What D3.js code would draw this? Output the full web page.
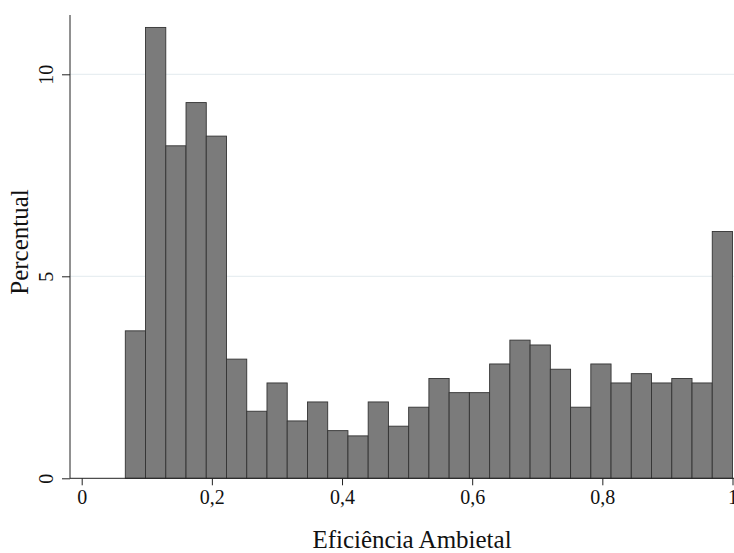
<!DOCTYPE html>
<html>
<head>
<meta charset="utf-8">
<script src="https://cdn.jsdelivr.net/npm/d3@7"></script>
<style>
  html, body { margin: 0; padding: 0; background: #fff; }
  text { font-family: "Liberation Serif", "DejaVu Serif", serif; fill: #111; }
</style>
</head>
<body>
<svg id="chart" width="734" height="553"></svg>
<script>
// Histogram data: bin start, bin width, percentages
const binStart = 0.0670;
const binEnd = 1.0;
const percentages = [3.65, 11.16, 8.23, 9.30, 8.47, 2.95, 1.66, 2.36, 1.42, 1.89,
                     1.18, 1.05, 1.89, 1.29, 1.76, 2.47, 2.12, 2.12, 2.83, 3.42,
                     3.30, 2.70, 1.76, 2.83, 2.36, 2.59, 2.36, 2.47, 2.36, 6.11];
const xTicks = [0, 0.2, 0.4, 0.6, 0.8, 1];
const yTicks = [0, 5, 10];
const xLabel = "Eficiência Ambietal";
const yLabel = "Percentual";

const svg = d3.select("#chart");
const x = d3.scaleLinear().domain([0, 1]).range([81.7, 732.5]);
const y = d3.scaleLinear().domain([0, 10]).range([478.3, 74.3]);

const binW = (binEnd - binStart) / percentages.length;
const bins = percentages.map((v, i) => ({ x0: binStart + i * binW, x1: binStart + (i + 1) * binW, v }));

// gridlines
svg.append("g").selectAll("line").data(yTicks.filter(d => d > 0)).join("line")
  .attr("x1", 70).attr("x2", 734)
  .attr("y1", d => y(d)).attr("y2", d => y(d))
  .attr("stroke", "#e8eef1").attr("stroke-width", 1.2);

// bars
svg.append("g").selectAll("rect").data(bins).join("rect")
  .attr("x", d => x(d.x0))
  .attr("width", d => x(d.x1) - x(d.x0))
  .attr("y", d => y(d.v))
  .attr("height", d => y(0) - y(d.v))
  .attr("fill", "#7b7b7b")
  .attr("stroke", "#333")
  .attr("stroke-width", 0.9);

// y axis
const yAxis = svg.append("g").attr("transform", "translate(70,0)")
  .call(d3.axisLeft(y).tickValues(yTicks).tickSize(8).tickPadding(6).tickFormat(d3.format("d")));
yAxis.select(".domain").attr("d", `M0,15V${y(0)}`).attr("stroke", "#222");
yAxis.selectAll(".tick line").attr("stroke", "#222");
yAxis.selectAll(".tick text")
  .attr("font-size", 20).attr("font-family", "Liberation Serif")
  .attr("text-anchor", "middle").attr("x", -24).attr("dy", 0)
  .attr("transform", `rotate(-90,-24,0)`)
  .attr("y", 7);

// x axis
const xAxis = svg.append("g").attr("transform", `translate(0,${y(0)})`)
  .call(d3.axisBottom(x).tickValues(xTicks).tickSize(7).tickPadding(5)
    .tickFormat(d => d3.format("")(d).replace(".", ",")));
xAxis.select(".domain").attr("d", `M70,0H734`).attr("stroke", "#222");
xAxis.selectAll(".tick line").attr("stroke", "#222");
xAxis.selectAll(".tick text").attr("font-size", 20).attr("font-family", "Liberation Serif");

// axis titles
svg.append("text").attr("x", 412).attr("y", 548).attr("text-anchor", "middle")
  .attr("font-size", 25).text(xLabel);
svg.append("text").attr("transform", "translate(28,242) rotate(-90)").attr("text-anchor", "middle")
  .attr("font-size", 25).text(yLabel);
</script>
</body>
</html>
